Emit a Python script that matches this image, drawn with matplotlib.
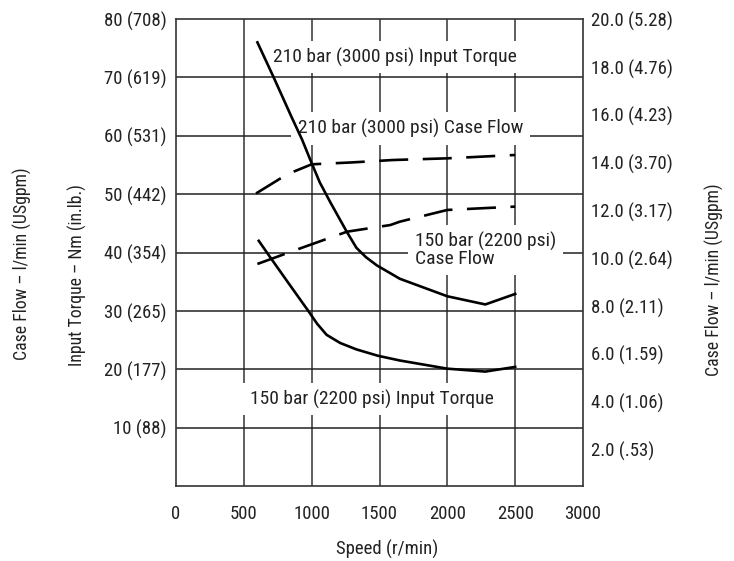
import matplotlib
matplotlib.use('Agg')
import matplotlib.pyplot as plt
from matplotlib import font_manager as fm

# ---------------- data ----------------
speed_ticks = [0, 500, 1000, 1500, 2000, 2500, 3000]
torque_ticks = [10, 20, 30, 40, 50, 60, 70, 80]
torque_tick_labels = ['10 (88)', '20 (177)', '30 (265)', '40 (354)', '50 (442)',
                      '60 (531)', '70 (619)', '80 (708)']
flow_ticks = [2, 4, 6, 8, 10, 12, 14, 16, 18, 20]
flow_tick_labels = ['2.0 (.53)', '4.0 (1.06)', '6.0 (1.59)', '8.0 (2.11)', '10.0 (2.64)',
                    '12.0 (3.17)', '14.0 (3.70)', '16.0 (4.23)', '18.0 (4.76)', '20.0 (5.28)']

torque210_speed = [600, 720, 850, 930, 1000, 1060, 1140, 1260, 1330, 1400, 1480, 1650,
                   2000, 2280, 2500]
torque210_nm = [76.0, 70.0, 63.3, 59.3, 55.3, 52.0, 48.5, 43.5, 40.8, 39.2, 37.8, 35.5,
                32.5, 31.1, 32.9]

torque150_speed = [610, 700, 840, 975, 1040, 1110, 1210, 1330, 1490, 1650, 2000, 2280, 2500]
torque150_nm = [42.0, 39.0, 34.4, 30.0, 27.8, 25.9, 24.5, 23.4, 22.3, 21.5, 20.1, 19.6, 20.4]

flow210_speed = [590, 770, 840, 1000, 1300, 1600, 2000, 2500]
flow210_lpm = [12.7, 13.33, 13.55, 13.92, 14.0, 14.1, 14.17, 14.31]

flow150_speed = [600, 880, 1260, 1580, 1650, 2000, 2500]
flow150_lpm = [9.75, 10.33, 11.10, 11.38, 11.52, 12.01, 12.15]

# ---------------- font ----------------
names = {f.name for f in fm.fontManager.ttflist}
family = 'DejaVu Sans'
for cand in ['Roboto Condensed', 'Liberation Sans Narrow', 'Archivo Narrow',
             'Asap Condensed']:
    if cand in names:
        family = cand
        break
plt.rcParams['font.family'] = [family, 'DejaVu Sans']
FS = 14       # annotations
FT = 13.5     # tick labels
FA = 12.8     # axis titles
TXT = '#222222'

W, H = 734, 561
fig = plt.figure(figsize=(W / 100, H / 100), dpi=100)
ax = fig.add_axes([176 / W, 1 - 486 / H, (583 - 176) / W, (486 - 19) / H])
ax.set_xlim(0, 3000)
ax.set_ylim(0, 80)
ax.set_xticks(speed_ticks)
ax.set_xticklabels([str(s) for s in speed_ticks], fontsize=FT)
ax.set_yticks(torque_ticks)
ax.set_yticklabels(torque_tick_labels, fontsize=FT)
ax.tick_params(axis='both', length=0, colors=TXT)
ax.tick_params(axis='x', pad=14)
ax.tick_params(axis='y', pad=7)
for v in speed_ticks[1:-1]:
    ax.axvline(v, color='#333333', lw=1.1, zorder=1)
for v in torque_ticks[:-1]:
    ax.axhline(v, color='#222222', lw=1.1, zorder=1)
for s in ax.spines.values():
    s.set_linewidth(1.2)
    s.set_color('#333333')

ax.plot(torque210_speed, torque210_nm, color='black', lw=1.9, zorder=4)
ax.plot(torque150_speed, torque150_nm, color='black', lw=1.9, zorder=4)

ax2 = ax.twinx()
ax2.set_ylim(0.46, 20)
ax2.set_yticks(flow_ticks)
ax2.set_yticklabels(flow_tick_labels, fontsize=FT)
ax2.tick_params(axis='y', length=0, pad=6, colors=TXT)
for s in ax2.spines.values():
    s.set_visible(False)
dash = (0, (11, 5.5))
ax2.plot(flow210_speed, flow210_lpm, color='black', lw=1.9, ls=dash, zorder=4)
ax2.plot(flow150_speed, flow150_lpm, color='black', lw=1.9, ls=dash, zorder=4)

box = dict(boxstyle='square,pad=0.35', fc='white', ec='none')
ax2.set_zorder(ax.get_zorder() + 1)
ax2.patch.set_visible(False)
ax.text(1611, 73.5, '210 bar (3000 psi) Input Torque', fontsize=FS, ha='center',
        va='center', bbox=box, zorder=3, color=TXT)
ax.text(1729, 61.3, '210 bar (3000 psi) Case Flow', fontsize=FS, ha='center',
        va='center', bbox=box, zorder=3, color=TXT)
ax.text(1762, 40.4, '150 bar (2200 psi)\nCase Flow', fontsize=FS, ha='left',
        va='center', linespacing=0.95, bbox=box, zorder=3, color=TXT)
ax.text(1441, 14.9, '150 bar (2200 psi) Input Torque', fontsize=FS, ha='center',
        va='center', bbox=box, zorder=3, color=TXT)

fig.text(387 / W, 1 - 549 / H, 'Speed (r/min)', fontsize=FA + 0.7, ha='center',
         va='center', color=TXT)
fig.text(22 / W, 1 - 264 / H, 'Case Flow – l/min (USgpm)', fontsize=FA, rotation=90,
         ha='center', va='center', color=TXT)
fig.text(77 / W, 1 - 275 / H, 'Input Torque – Nm (in.lb.)', fontsize=FA, rotation=90,
         ha='center', va='center', color=TXT)
fig.text(714 / W, 1 - 280 / H, 'Case Flow – l/min (USgpm)', fontsize=FA, rotation=90,
         ha='center', va='center', color=TXT)

fig.savefig('out.png', dpi=100)
